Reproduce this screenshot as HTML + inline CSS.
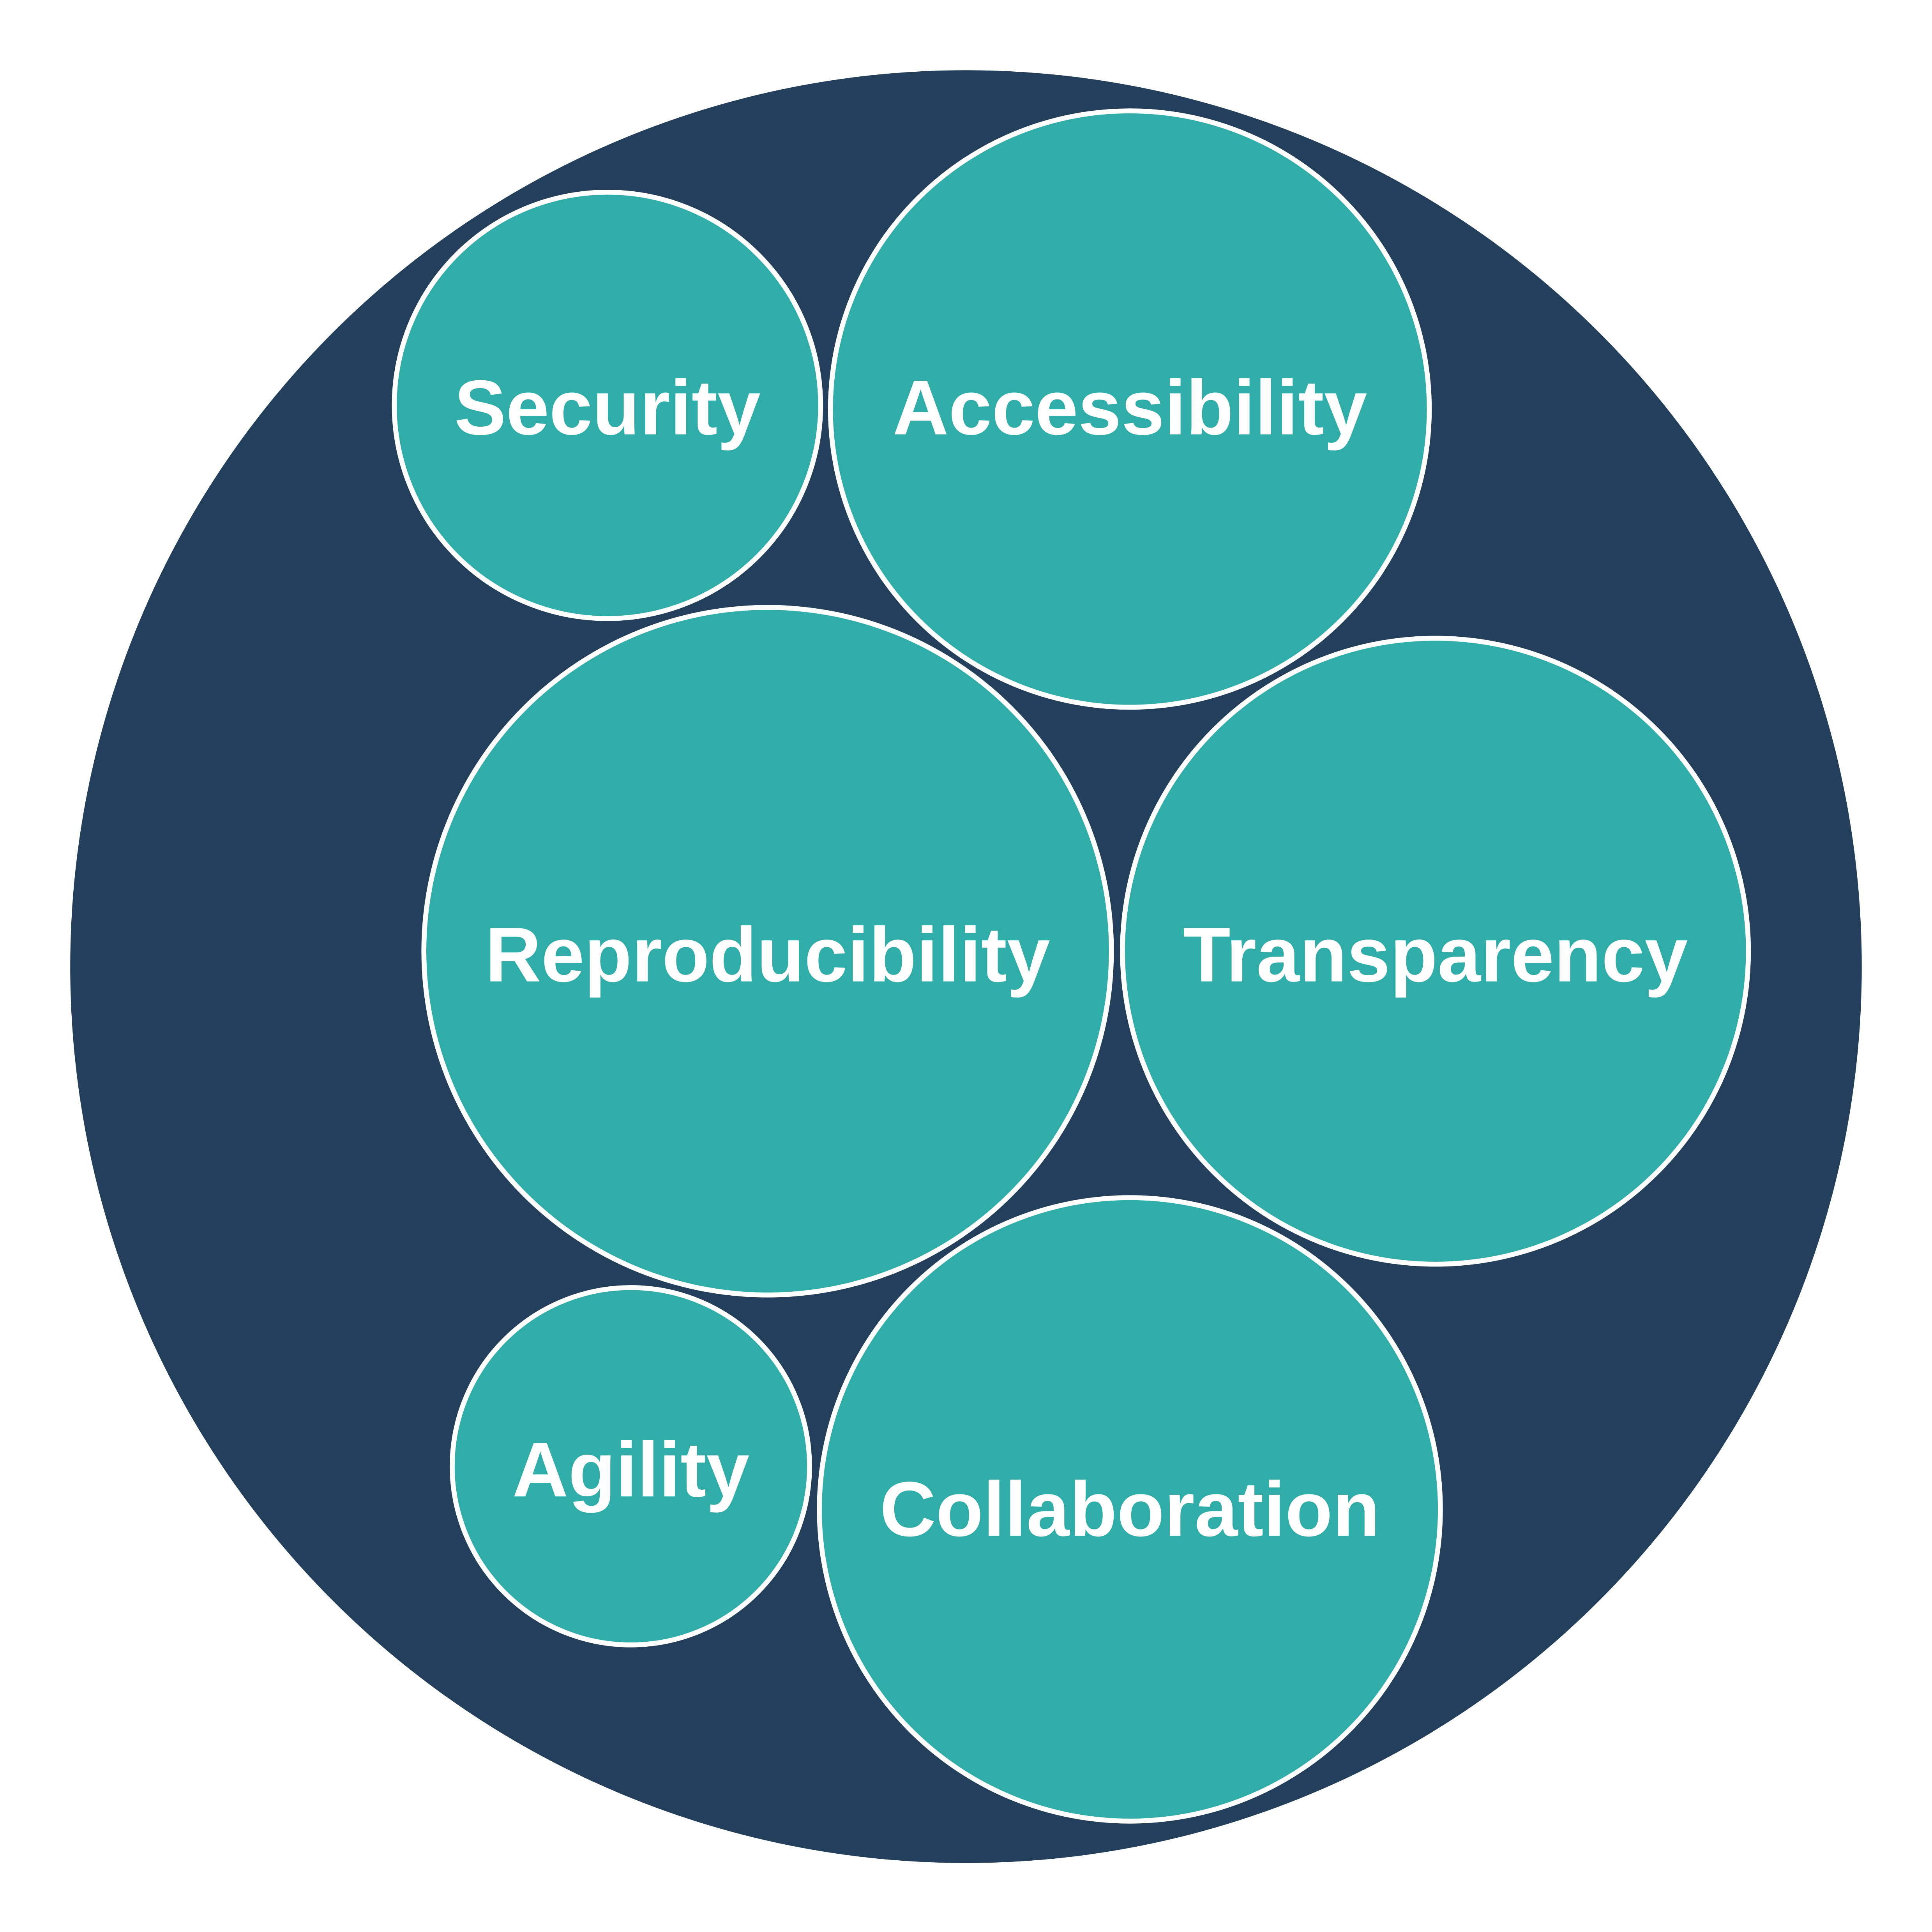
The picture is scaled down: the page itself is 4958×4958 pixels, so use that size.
<!DOCTYPE html>
<html>
<head>
<meta charset="utf-8">
<style>
html,body{margin:0;padding:0;background:#fff;}
svg{display:block;}
text{font-family:"Liberation Sans",Arial,sans-serif;font-weight:bold;fill:#fff;text-anchor:middle;dominant-baseline:central;font-size:63px;}
</style>
</head>
<body>
<svg width="4958" height="4958" viewBox="0 0 1568 1568" xmlns="http://www.w3.org/2000/svg">
<rect width="1568" height="1568" fill="#ffffff"/>
<ellipse cx="784" cy="784.5" rx="727" ry="727.5" fill="#243F5C"/>
<g fill="#30ADA9" stroke="#ffffff" stroke-width="4">
<circle cx="493" cy="329" r="173"/>
<ellipse cx="917" cy="332" rx="243" ry="242"/>
<circle cx="623" cy="772" r="279"/>
<circle cx="1165" cy="772" r="254"/>
<circle cx="512" cy="1190" r="145"/>
<ellipse cx="917" cy="1225" rx="252" ry="253"/>
</g>
<text x="493" y="331">Security</text>
<text x="917" y="331">Accessibility</text>
<text x="623" y="775">Reproducibility</text>
<text x="1165" y="775">Transparency</text>
<text x="512" y="1193">Agility</text>
<text x="917" y="1225">Collaboration</text>
</svg>
</body>
</html>
